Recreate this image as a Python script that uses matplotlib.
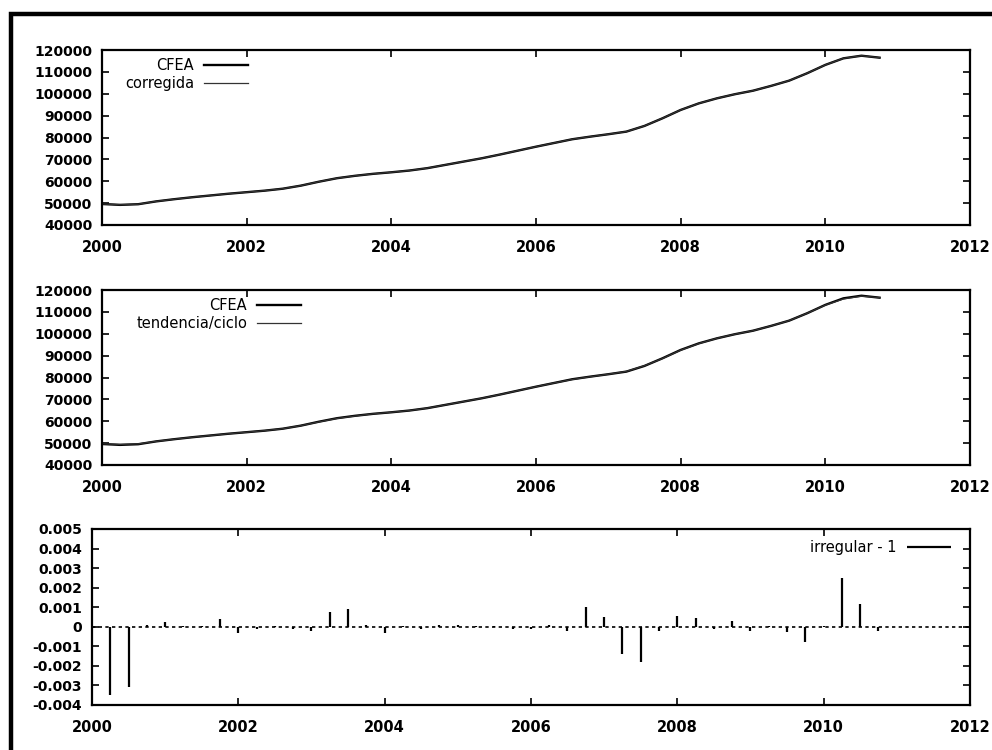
import numpy as np
import matplotlib.pyplot as plt
from matplotlib.patches import Rectangle
from matplotlib.ticker import FuncFormatter

# quarterly observations 2000Q1 - 2010Q4
fechas = np.arange(2000, 2011, 0.25)

cfea = [49600, 49200, 49500, 50800, 51800, 52700, 53500, 54300,
        55000, 55700, 56600, 58000, 59800, 61400, 62500, 63400,
        64100, 64900, 66000, 67500, 69000, 70500, 72200, 74000,
        75800, 77500, 79200, 80400, 81500, 82700, 85300, 88800,
        92600, 95600, 97900, 99800, 101400, 103600, 106000, 109400,
        113200, 116200, 117400, 116500]

corregida = [49650, 49250, 49500, 50800, 51800, 52700, 53500, 54300,
             55000, 55700, 56600, 58000, 59800, 61400, 62500, 63400,
             64100, 64900, 66000, 67500, 69000, 70500, 72200, 74000,
             75800, 77500, 79200, 80400, 81500, 82700, 85300, 88800,
             92600, 95600, 97900, 99800, 101400, 103600, 106000, 109400,
             113200, 116200, 117400, 116500]

tendencia = [49700, 49400, 49650, 50800, 51800, 52700, 53500, 54300,
             55000, 55700, 56600, 58000, 59700, 61300, 62400, 63400,
             64100, 64900, 66000, 67500, 69000, 70500, 72200, 74000,
             75800, 77500, 79100, 80350, 81500, 82800, 85400, 88700,
             92500, 95500, 97900, 99800, 101400, 103600, 106000, 109400,
             113100, 115900, 117200, 116500]

irregular = [0.0, -0.0035, -0.0031, 0.0001, 0.00025, 0.00002, 0.00005, 0.0004,
             -0.0003, -0.0001, 0.00002, -0.0001, -0.0002, 0.00078, 0.00092, 0.0001,
             -0.0003, 0.00002, -0.0001, 0.0001, 0.0001, 0.00002, 0.00005, -0.0001,
             -0.0001, 0.0001, -0.0002, 0.001, 0.0005, -0.0014, -0.0018, -0.0002,
             0.00054, 0.00046, -0.0001, 0.0003, -0.0002, 0.00002, -0.00026, -0.00078,
             0.00005, 0.00248, 0.00118, -0.0002]

xticks = [2000, 2002, 2004, 2006, 2008, 2010, 2012]
yticks_nivel = np.arange(40000, 120001, 10000)
yticks_irr = np.arange(-0.004, 0.0051, 0.001)

plt.rcParams['font.family'] = 'DejaVu Sans'

fig = plt.figure(figsize=(9.92, 7.5), dpi=100)

# thick scanned frame round the page
fig.patches.append(Rectangle((0.011, -0.05), 1.1, 1.031, transform=fig.transFigure,
                             fill=False, lw=3.2, ec='black'))

def estilo(ax, yticks):
    ax.set_xlim(2000, 2012)
    ax.set_xticks(xticks)
    ax.set_yticks(yticks)
    ax.tick_params(direction='in', top=True, right=True, length=5, width=1.2,
                   labelsize=10, pad=7)
    ax.tick_params(axis='x', pad=11, labelsize=10.5)
    for lab in ax.get_xticklabels() + ax.get_yticklabels():
        lab.set_fontweight('bold')
    for s in ax.spines.values():
        s.set_linewidth(1.6)

leg_kw = dict(loc='upper right', frameon=False, markerfirst=False, fontsize=10.5,
              handlelength=3.0, labelspacing=0.25, borderaxespad=0.0, handletextpad=0.7)

#---------- panel 1: CFEA and corrected
ax1 = fig.add_axes([0.1028, 0.70, 0.875, 0.2333])
ax1.plot(fechas, cfea, color='black', lw=1.7, label='CFEA')
ax1.plot(fechas, corregida, color='#333333', lw=0.9, label='corregida')
ax1.set_ylim(40000, 120000)
estilo(ax1, yticks_nivel)
ax1.legend(bbox_to_anchor=(0.175, 0.99), **leg_kw)

#---------- panel 2: CFEA and trend/cycle
ax2 = fig.add_axes([0.1028, 0.38, 0.875, 0.2333])
ax2.plot(fechas, cfea, color='black', lw=1.7, label='CFEA')
ax2.plot(fechas, tendencia, color='#333333', lw=0.9, label='tendencia/ciclo')
ax2.set_ylim(40000, 120000)
estilo(ax2, yticks_nivel)
ax2.legend(bbox_to_anchor=(0.236, 0.99), **leg_kw)

#---------- panel 3: irregular component (impulses)
ax3 = fig.add_axes([0.0927, 0.06, 0.885, 0.2347])
ax3.axhline(0, color='black', lw=1.2, ls=(0, (2, 2)))
ax3.vlines(fechas, 0, irregular, color='black', lw=1.6, label='irregular - 1')
ax3.set_ylim(-0.004, 0.005)
estilo(ax3, yticks_irr)
ax3.yaxis.set_major_formatter(FuncFormatter(lambda v, p: '%g' % round(v, 4)))
for lab in ax3.get_yticklabels():
    lab.set_fontweight('bold')
ax3.legend(bbox_to_anchor=(0.985, 0.97), **leg_kw)

plt.savefig('out.png', dpi=100)
